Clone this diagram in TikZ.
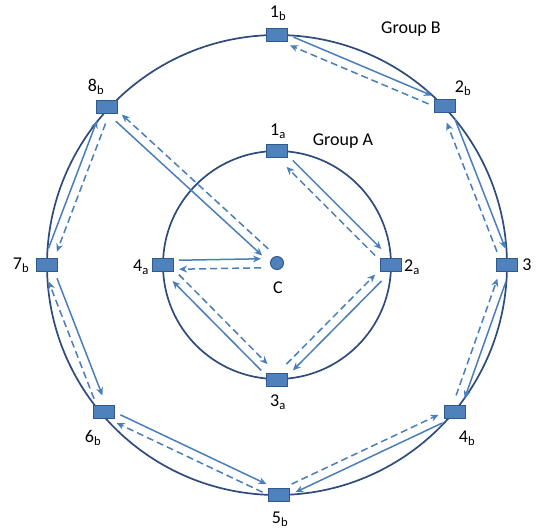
\documentclass[tikz,border=0pt]{standalone}
\usepackage{fontspec}
\setmainfont{Carlito}
\usetikzlibrary{calc,arrows.meta}
\definecolor{ring}{HTML}{2F4B7C}
\definecolor{arr}{HTML}{4A7EBB}
\definecolor{nfill}{HTML}{4F81BD}
\definecolor{ndraw}{HTML}{2F5A8E}
\tikzset{
  nodebox/.style={draw=ndraw,fill=nfill,line width=1pt,minimum width=21pt,minimum height=13pt,inner sep=0pt},
  ringline/.style={draw=ring,line width=1.7pt},
  sarr/.style={draw=arr,line width=1.5pt,-{Stealth[length=8pt,width=7pt]}},
  darr/.style={draw=arr,line width=1.5pt,dash pattern=on 7pt off 4pt,-{Stealth[length=8pt,width=7pt]}},
  lbl/.style={font=\fontsize{18}{20}\selectfont,inner sep=0pt}
}
% #1 from, #2 to, #3 side sign, #4 gap at ends
\newcommand\apair[4]{%
  \draw[sarr] ($($(#1)!#4!(#2)$)+($(#1)!#3*4.5pt!90:(#2)$)-(#1)$) -- ($($(#2)!#4!(#1)$)+($(#1)!#3*4.5pt!90:(#2)$)-(#1)$);
  \draw[darr] ($($(#2)!#4!(#1)$)-($(#1)!#3*4.5pt!90:(#2)$)+(#1)$) -- ($($(#1)!#4!(#2)$)-($(#1)!#3*4.5pt!90:(#2)$)+(#1)$);
}
\begin{document}
\begin{tikzpicture}[x=1pt,y=-1pt]
\useasboundingbox (0,0) rectangle (537,531);
\coordinate (O) at (277,265);
\draw[ringline] (O) circle[radius=230pt];
\draw[ringline] (O) circle[radius=114pt];
% outer nodes
\node[nodebox] (b1) at (277,35) {};
\node[nodebox] (b2) at (445,106) {};
\node[nodebox] (b3) at (507,265) {};
\node[nodebox] (b4) at (455,412) {};
\node[nodebox] (b5) at (279,495) {};
\node[nodebox] (b6) at (104,412) {};
\node[nodebox] (b7) at (47,265) {};
\node[nodebox] (b8) at (107,107) {};
% inner nodes
\node[nodebox] (a1) at (277,151) {};
\node[nodebox] (a2) at (391,265) {};
\node[nodebox] (a3) at (277,380) {};
\node[nodebox] (a4) at (163,265) {};
\node[circle,draw=ndraw,fill=nfill,line width=1pt,minimum size=13pt,inner sep=0pt] (cc) at (277,263) {};
% labels
\node[lbl] (lb1) at (278,13) {1\textsubscript{b}};
\node[lbl] (lb2) at (463,88) {2\textsubscript{b}};
\node[lbl] (lb3) at (527,265) {3};
\node[lbl] (lb4) at (467,438) {4\textsubscript{b}};
\node[lbl] (lb5) at (280,519) {5\textsubscript{b}};
\node[lbl] (lb6) at (93,438) {6\textsubscript{b}};
\node[lbl] (lb7) at (21,265) {7\textsubscript{b}};
\node[lbl] (lb8) at (96,87) {8\textsubscript{b}};
\node[lbl] (la1) at (278,131) {1\textsubscript{a}};
\node[lbl] (la2) at (412,267) {2\textsubscript{a}};
\node[lbl] (la3) at (278,402) {3\textsubscript{a}};
\node[lbl] (la4) at (141,267) {4\textsubscript{a}};
\node[lbl] (lc) at (278,288) {C};
\node[lbl] (ga) at (343,141) {Group A};
\node[lbl] (gb) at (411,29) {Group B};
% arrows outer
\apair{b1}{b2}{1}{16pt}
\apair{b2}{b3}{1}{16pt}
\apair{b3}{b4}{1}{16pt}
\apair{b4}{b5}{1}{16pt}
\apair{b6}{b5}{1}{16pt}
\apair{b7}{b6}{1}{16pt}
\apair{b7}{b8}{1}{16pt}
\apair{b8}{cc}{-1}{16pt}
% arrows inner
\apair{a1}{a2}{1}{18pt}
\apair{a2}{a3}{1}{18pt}
\apair{a3}{a4}{1}{18pt}
\apair{a4}{cc}{1}{16pt}
\end{tikzpicture}
\end{document}
